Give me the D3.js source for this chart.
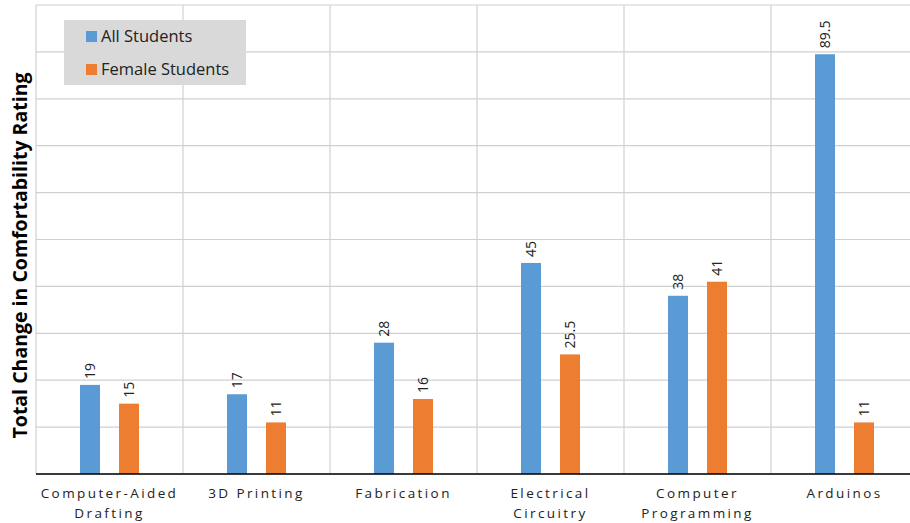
<!DOCTYPE html>
<html>
<head>
<meta charset="utf-8">
<script src="https://cdn.jsdelivr.net/npm/d3@7"></script>
<style>
  body { margin: 0; background: #fff; }
  svg { display: block; font-family: "Open Sans", Calibri, Carlito, sans-serif; }
</style>
</head>
<body>
<svg id="chart" width="910" height="523"></svg>
<script>
// chart data
var categories = [['Computer-Aided', 'Drafting'], ['3D Printing'], ['Fabrication'],
                  ['Electrical', 'Circuitry'], ['Computer', 'Programming'], ['Arduinos']];
var seriesNames = ['All Students', 'Female Students'];
var allStudents = [19, 17, 28, 45, 38, 89.5];
var femaleStudents = [15, 11, 16, 25.5, 41, 11];
var yTicks = [0, 10, 20, 30, 40, 50, 60, 70, 80, 90, 100];
var colors = ['#5b9bd5', '#ed7d31'];

var svg = d3.select('#chart'),
    margin = {top: 5, right: -8, bottom: 49, left: 36},
    width = 910 - margin.left - margin.right,
    height = 523 - margin.top - margin.bottom,
    g = svg.append('g').attr('transform', 'translate(' + margin.left + ',' + margin.top + ')');

var x = d3.scaleBand().domain(d3.range(categories.length)).range([0, width]);
var y = d3.scaleLinear().domain([0, 100]).range([height, 0]);

// horizontal gridlines
g.selectAll('line.hgrid').data(yTicks).enter().append('line')
  .attr('x1', 0).attr('x2', width)
  .attr('y1', function(d) { return y(d); }).attr('y2', function(d) { return y(d); })
  .attr('stroke', '#d0d0d0').attr('stroke-width', 1.2);

// vertical gridlines at category boundaries
g.selectAll('line.vgrid').data(d3.range(categories.length + 1)).enter().append('line')
  .attr('x1', function(i) { return i * x.step(); }).attr('x2', function(i) { return i * x.step(); })
  .attr('y1', 0).attr('y2', height)
  .attr('stroke', '#d0d0d0').attr('stroke-width', 1.2);

// bars
var barW = 20, offset = 19.5;
var series = [allStudents, femaleStudents];
series.forEach(function(vals, s) {
  var dx = s === 0 ? -offset : offset;
  var grp = g.append('g');
  grp.selectAll('rect').data(vals).enter().append('rect')
    .attr('x', function(d, i) { return x(i) + x.bandwidth() / 2 + dx - barW / 2; })
    .attr('y', function(d) { return y(d); })
    .attr('width', barW)
    .attr('height', function(d) { return height - y(d); })
    .attr('fill', colors[s]);
  grp.selectAll('text').data(vals).enter().append('text')
    .attr('transform', function(d, i) {
      return 'translate(' + (x(i) + x.bandwidth() / 2 + dx + 5) + ',' + (y(d) - 6) + ') rotate(-90)';
    })
    .attr('font-size', 14).attr('fill', '#222')
    .text(function(d) { return d; });
});

// x axis line
g.append('line').attr('x1', 0).attr('x2', width).attr('y1', height).attr('y2', height)
  .attr('stroke', '#000').attr('stroke-width', 1.5);

// category labels
categories.forEach(function(lines, i) {
  var t = g.append('text')
    .attr('x', x(i) + x.bandwidth() / 2)
    .attr('y', height + 24)
    .attr('text-anchor', 'middle')
    .attr('font-size', 13.5)
    .attr('letter-spacing', 2.4)
    .attr('fill', '#222');
  lines.forEach(function(l, k) {
    t.append('tspan').attr('x', x(i) + x.bandwidth() / 2).attr('dy', k === 0 ? 0 : 20).text(l);
  });
});

// y axis title
svg.append('text')
  .attr('transform', 'translate(27,' + (margin.top + height / 2 + 16) + ') rotate(-90)')
  .attr('text-anchor', 'middle')
  .attr('font-size', 19.5).attr('font-weight', 'bold').attr('fill', '#000')
  .text('Total Change in Comfortability Rating');

// legend
var legend = svg.append('g').attr('transform', 'translate(64,20)');
legend.append('rect').attr('width', 182).attr('height', 65).attr('fill', '#d9d9d9');
seriesNames.forEach(function(name, i) {
  legend.append('rect').attr('x', 22).attr('y', 11 + i * 33).attr('width', 11).attr('height', 11).attr('fill', colors[i]);
  legend.append('text').attr('x', 37).attr('y', 22 + i * 33)
    .attr('font-size', 16.5).attr('fill', '#222').text(name);
});
</script>
</body>
</html>
